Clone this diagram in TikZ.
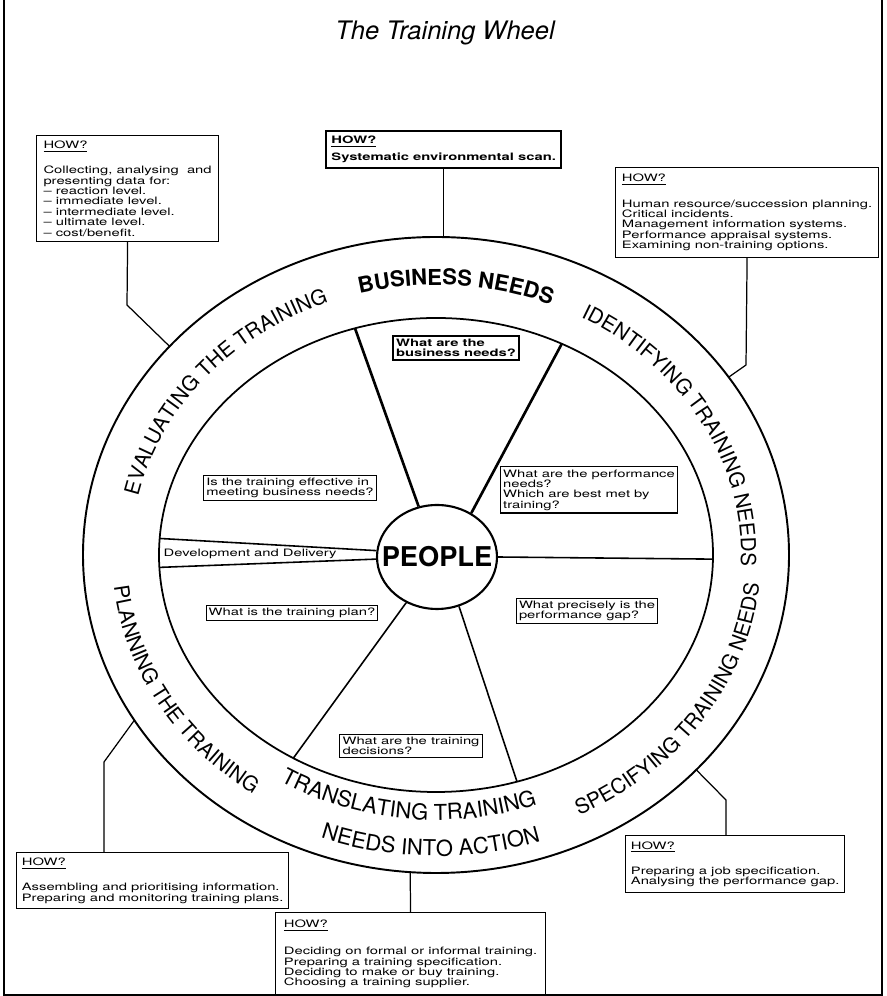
\documentclass[tikz,border=0pt]{standalone}
\usepackage{fontspec}
\setmainfont{TeX Gyre Heros}
\newfontfamily\widefont{TeX Gyre Heros}[FakeStretch=1.45]
\newcommand\boxfont{\widefont\fontsize{5.8pt}{5.9pt}\selectfont}
\newcommand\ringfont{\fontsize{11.8pt}{11.8pt}\selectfont}
\usetikzlibrary{shapes.geometric,decorations.text,calc}

\begin{document}
\begin{tikzpicture}[x=0.02cm,y=0.02cm,how/.style={draw,line width=0.7pt,anchor=north west,align=left,inner sep=3pt,font=\boxfont},ask/.style={draw,line width=0.6pt,align=left,inner sep=1.5pt,font=\boxfont},spoke/.style={line width=0.9pt},link/.style={line width=0.7pt},ring/.style={decorate,decoration={text along path,text align=center,text={#1}}}]
\useasboundingbox (0,0) rectangle (886,996);
\draw[line width=0.8pt] (4,996)--(4,1)--(882,1)--(882,996);
\node[font=\itshape\fontsize{14.5pt}{14.5pt}\selectfont] (title) at (445,963) {The Training Wheel};
\coordinate (C) at (436,441);
\draw[line width=1.1pt] (C) ellipse[x radius=353,y radius=318];
\draw[line width=1pt] (C) ellipse[x radius=277,y radius=237];
\node[draw,ellipse,line width=1.2pt,minimum width=2.4cm,minimum height=2.08cm,inner xsep=-8pt,inner ysep=0pt,fill=white,font=\bfseries\fontsize{15.5pt}{15.5pt}\selectfont] (people) at (437,439) {PEOPLE};
\foreach \n/\t in {s1/107,s2/63,s3/-1,s4/-73,s5/-121,d1/176,d2/183}
  \coordinate (\n) at ($(C)+(\t:277 and 237)$);
\draw[spoke,line width=1.5pt] (people.110)--(s1);
\draw[spoke,line width=1.5pt] (people.52)--(s2);
\draw[spoke] (people.0)--(s3);
\draw[spoke] (people.294)--(s4);
\draw[spoke] (people.236)--(s5);
\draw[spoke] (people.174)--(d1);
\draw[spoke] (people.182)--(d2);
\path[ring={|\ringfont|EVALUATING THE TRAINING}] ($(C)+(185:305 and 270)$) arc[start angle=185,end angle=95,x radius=305,y radius=270];
\path[ring={|\fontsize{12.5pt}{12.5pt}\selectfont\bfseries|BUSINESS NEEDS}] ($(C)+(131:305 and 270)$) arc[start angle=131,end angle=41,x radius=305,y radius=270];
\path[ring={|\ringfont|IDENTIFYING TRAINING NEEDS}] ($(C)+(74:305 and 270)$) arc[start angle=74,end angle=-16,x radius=305,y radius=270];
\path[ring={|\ringfont|SPECIFYING TRAINING NEEDS}] ($(C)+(-79:325 and 290)$) arc[start angle=-79,end angle=11,x radius=325,y radius=290];
\path[ring={|\ringfont|PLANNING THE TRAINING}] ($(C)+(165:324 and 289)$) arc[start angle=165,end angle=255,x radius=324,y radius=289];
\path[ring={|\fontsize{12.5pt}{12.5pt}\selectfont|TRANSLATING TRAINING}] ($(C)+(219:300 and 265)$) arc[start angle=219,end angle=309,x radius=300,y radius=265];
\path[ring={|\fontsize{12.5pt}{12.5pt}\selectfont|NEEDS INTO ACTION}] ($(C)+(224:336 and 301)$) arc[start angle=224,end angle=314,x radius=336,y radius=301];
\node[ask,line width=1.2pt,font=\boxfont\bfseries] (q1) at (456,648) {What are the\\business needs?};
\node[ask] (q2) at (290,508) {Is the training effective in\\meeting business needs?};
\node[ask] (q3) at (589,506) {What are the performance\\needs?\\Which are best met by\\training?};
\node[font=\boxfont] (devdel) at (250,442) {Development and Delivery};
\node[ask] (q4) at (292,383) {What is the training plan?};
\node[ask] (q5) at (587,385) {What precisely is the\\performance gap?};
\node[ask] (q6) at (411,250) {What are the training\\decisions?};
\node[how,minimum width=3.64cm,minimum height=2.1cm] (how1) at (36,861) {\underline{HOW?}\\[7pt]Collecting, analysing\ \ and\\presenting data for:\\– reaction level.\\– immediate level.\\– intermediate level.\\– ultimate level.\\– cost/benefit.};
\node[how,line width=1.3pt,minimum width=4.54cm,minimum height=0.6cm,font=\boxfont\bfseries] (how2) at (325,866) {\underline{HOW?}\\[2pt]Systematic environmental scan.};
\node[how,minimum width=5.26cm,minimum height=1.8cm] (how3) at (615,829) {\underline{HOW?}\\[7pt]Human resource/succession planning.\\Critical incidents.\\Management information systems.\\Performance appraisal systems.\\Examining non-training options.};
\node[how,minimum width=5.02cm,minimum height=1.12cm] (how4) at (16,144) {\underline{HOW?}\\[7pt]Assembling and prioritising information.\\Preparing and monitoring training plans.};
\node[how,minimum width=5.4cm,minimum height=1.66cm] (how5) at (275,84) {\underline{HOW?}\\[8pt]Deciding on formal or informal training.\\Preparing a training specification.\\Deciding to make or buy training.\\Choosing a training supplier.};
\node[how,minimum width=4.36cm,minimum height=1.14cm] (how6) at (625,161) {\underline{HOW?}\\[7pt]Preparing a job specification.\\Analysing the performance gap.};
\coordinate (b1) at (127,691);
\coordinate (e1) at ($(C)+(139:353 and 318)$);
\coordinate (e2) at ($(C)+(90:353 and 318)$);
\coordinate (b3) at (746,631);
\coordinate (e3) at ($(C)+(34:353 and 318)$);
\coordinate (b4) at (104,234);
\coordinate (e4) at ($(C)+(211.3:353 and 318)$);
\coordinate (e5) at ($(C)+(265.8:353 and 318)$);
\coordinate (b6) at (726,196);
\coordinate (e6) at ($(C)+(-42.5:353 and 318)$);
\draw[link] (how1.south)--(b1)--(e1);
\draw[link] (how2.south)--(how2.south |- e2);
\draw[link] (how3.south)--(b3)--(e3);
\draw[link] (how4.north -| b4)--(b4)--(e4);
\draw[link] (how5.north)--(e5);
\draw[link] (how6.north -| b6)--(b6)--(e6);
\end{tikzpicture}
\end{document}
